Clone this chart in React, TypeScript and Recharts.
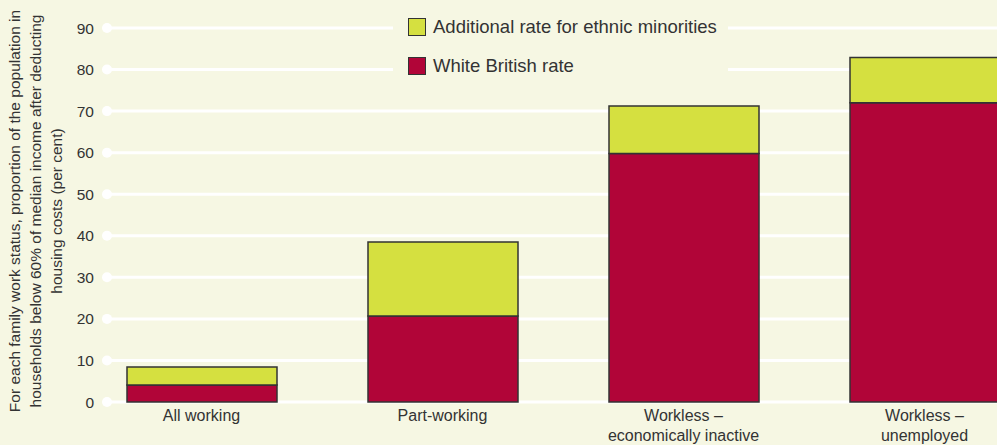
import React from 'react';
import { BarChart, Bar, XAxis, YAxis, CartesianGrid } from 'recharts';

const categories = ['All working', 'Part-working', 'Workless –\neconomically inactive', 'Workless –\nunemployed'];
const whiteBritishRate = [4.1, 20.7, 59.8, 72.0];
const additionalEthnicRate = [4.3, 17.8, 11.4, 10.9];
const yTicks = [0, 10, 20, 30, 40, 50, 60, 70, 80, 90];
const legendLabels = ['Additional rate for ethnic minorities', 'White British rate'];

const data = categories.map((c, i) => ({
  name: c,
  white: whiteBritishRate[i],
  additional: additionalEthnicRate[i],
}));

const BG = '#f6f7e3';
const YELLOW = '#d5e040';
const RED = '#b10538';
const TEXT = '#333333';
const FONT = '"Liberation Sans", Arial, sans-serif';

const YTick = (props: any) => {
  const { x, y, payload } = props;
  return (
    <text x={x + 13} y={y} dy={5.5} textAnchor="end" fontSize={15.5} fill={TEXT} fontFamily={FONT}>
      {payload.value}
    </text>
  );
};

const XTick = (props: any) => {
  const { x, y, payload } = props;
  const lines = String(payload.value).split('\n');
  return (
    <text x={x} y={y} textAnchor="middle" fontSize={16} fill={TEXT} fontFamily={FONT}>
      {lines.map((l, i) => (
        <tspan key={i} x={x} dy={i === 0 ? 18.5 : 20}>{l}</tspan>
      ))}
    </text>
  );
};

const GridLine = (props: any) => {
  const { x1, x2, y1, index } = props;
  const start = x1 + 26;
  return (
    <g key={`gl-${index}-${y1}`}>
      <line x1={start} x2={x2} y1={y1} y2={y1} stroke="#ffffff" strokeWidth={3} />
      <circle cx={start} cy={y1} r={5} fill="#ffffff" />
    </g>
  );
};

const LegendBox = () => {
  const colors = [YELLOW, RED];
  return (
    <div style={{ position: 'absolute', left: 393, top: 4, width: 335, height: 85, background: BG, fontFamily: FONT, color: TEXT, fontSize: 18.5 }}>
      {legendLabels.map((label, i) => (
        <div key={i} style={{ position: 'absolute', left: 15, top: 13 + i * 39, height: 20, display: 'flex', alignItems: 'center', whiteSpace: 'nowrap' }}>
          <span style={{ display: 'inline-block', width: 16, height: 16, background: colors[i], border: '1.5px solid #333', marginRight: 7 }} />
          <span>{label}</span>
        </div>
      ))}
    </div>
  );
};

export default function App() {
  return (
    <div style={{ position: 'absolute', left: 0, top: 0, width: 997, height: 445, overflow: 'hidden', background: BG }}>
      <div style={{ position: 'absolute', left: 0, top: 0, width: 70, height: 445 }}>
        <svg width={70} height={445}>
          <text transform="translate(35,211) rotate(-90)" textAnchor="middle" fontSize={15.5} fill={TEXT} fontFamily={FONT}>
            <tspan x={0} dy={-15.5}>For each family work status, proportion of the population in</tspan>
            <tspan x={0} dy={21}>households below 60% of median income after deducting</tspan>
            <tspan x={0} dy={21}>housing costs (per cent)</tspan>
          </text>
        </svg>
      </div>
      <div style={{ position: 'absolute', left: 0, top: 0 }}>
        <BarChart width={1050} height={445} data={data} margin={{ top: 28, right: 5, bottom: 0, left: 0 }} barSize={150}>
          <CartesianGrid vertical={false} horizontal={GridLine} />
          <XAxis dataKey="name" axisLine={false} tickLine={false} height={43} tick={<XTick />} interval={0} tickSize={0} tickMargin={0} />
          <YAxis domain={[0, 90]} ticks={yTicks} axisLine={false} tickLine={false} width={81} tick={<YTick />} tickSize={0} tickMargin={0} interval={0} />
          <Bar dataKey="white" stackId="a" fill={RED} stroke="#333" strokeWidth={1.5} isAnimationActive={false} />
          <Bar dataKey="additional" stackId="a" fill={YELLOW} stroke="#333" strokeWidth={1.5} isAnimationActive={false} />
        </BarChart>
      </div>
      <LegendBox />
    </div>
  );
}
